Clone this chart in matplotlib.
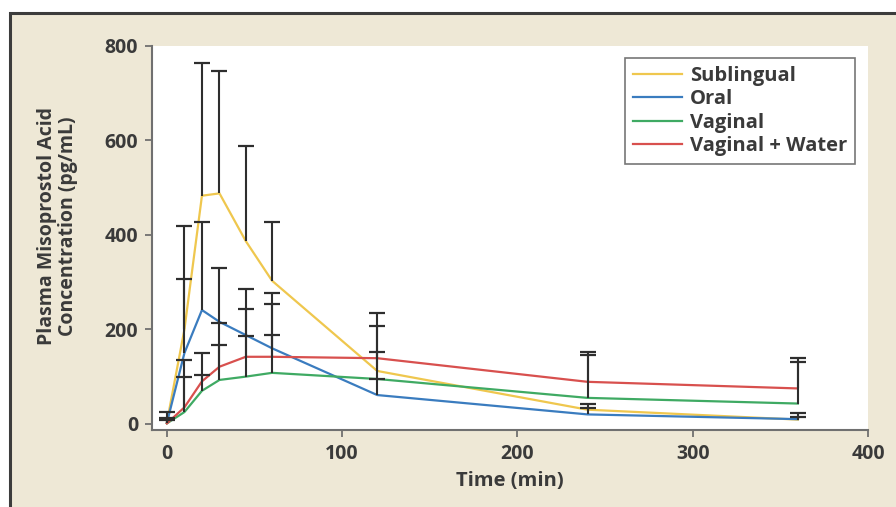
import numpy as np
import matplotlib.pyplot as plt
from matplotlib.patches import Rectangle

# sampling times (min)
times = [0, 10, 20, 30, 45, 60, 120, 240, 360]

# mean plasma misoprostol acid (pg/mL) and upper SD
sublingual = [3, 200, 483, 488, 387, 303, 112, 30, 9]
sublingual_sd = [23, 218, 280, 260, 202, 124, 122, 13, 14]
oral = [2, 150, 241, 216, 188, 160, 61, 20, 10]
oral_sd = [10, 156, 186, 115, 97, 117, 34, 14, 5]
vaginal = [1, 25, 70, 93, 100, 108, 95, 55, 43]
vaginal_sd = [7, 75, 34, 74, 85, 80, 58, 90, 88]
vaginal_water = [1, 35, 90, 121, 142, 142, 139, 89, 75]
vaginal_water_sd = [9, 100, 61, 93, 101, 112, 69, 63, 65]

labels = ['Sublingual', 'Oral', 'Vaginal', 'Vaginal + Water']
colors = ['#EFC74E', '#3A7CBF', '#3FAA63', '#D8504E']

BEIGE = '#EEE8D6'
TEXT = '#3a3a3a'
AXIS = '#707070'
BAR = '#2e2e2e'

plt.rcParams['font.family'] = ['Open Sans', 'DejaVu Sans']
plt.rcParams['font.weight'] = 'bold'

fig = plt.figure(figsize=(8.96, 5.07), dpi=100, facecolor='white')
fig.patches.append(Rectangle((10 / 896, -0.02), 1.0, 1 - 13 / 507 + 0.02,
                             transform=fig.transFigure, facecolor=BEIGE,
                             edgecolor='#3c3c3c', linewidth=2.2, zorder=-10))

ax = fig.add_axes([152 / 896, 1 - 430 / 507, (868 - 152) / 896, (430 - 46) / 507])
ax.set_facecolor('white')

series = [(sublingual, sublingual_sd), (oral, oral_sd),
          (vaginal, vaginal_sd), (vaginal_water, vaginal_water_sd)]
for (vals, sd), lab, col in zip(series, labels, colors):
    ax.plot(times, vals, color=col, linewidth=1.6, label=lab, zorder=2)

# upper-only SD bars, no cap at the mean
for vals, sd in series:
    top = np.array(vals) + np.array(sd)
    ax.vlines(times, vals, top, color=BAR, linewidth=1.5, zorder=3)
    ax.plot(times, top, linestyle='none', marker='_', markersize=11,
            markeredgewidth=1.6, color=BAR, zorder=3)

ax.set_xlim(-8.5, 400)
ax.set_ylim(-13, 800)
ax.set_xticks([0, 100, 200, 300, 400])
ax.set_yticks([0, 200, 400, 600, 800])
for s in ['top', 'right']:
    ax.spines[s].set_visible(False)
for s in ['left', 'bottom']:
    ax.spines[s].set_color(AXIS)
    ax.spines[s].set_linewidth(1.5)
ax.tick_params(colors=AXIS, width=1.3, length=5, labelsize=14,
               labelcolor=TEXT, pad=5)

ax.set_xlabel('Time (min)', fontsize=14.5, fontweight='bold', color=TEXT,
              labelpad=5)
ax.set_ylabel('Plasma Misoprostol Acid\nConcentration (pg/mL)', fontsize=14,
              fontweight='bold', color=TEXT, linespacing=1.05)
ax.yaxis.set_label_coords(-0.104, 0.53)

leg = ax.legend(loc='upper right', bbox_to_anchor=(0.982, 0.969),
                borderaxespad=0, fontsize=14.5, frameon=True, fancybox=False,
                edgecolor='#555555', handlelength=2.4, handletextpad=0.4,
                labelspacing=0.17, borderpad=0.4)
leg.get_frame().set_linewidth(1.2)
for t in leg.get_texts():
    t.set_color(TEXT)

fig.savefig('out.png', dpi=100, facecolor=fig.get_facecolor())
